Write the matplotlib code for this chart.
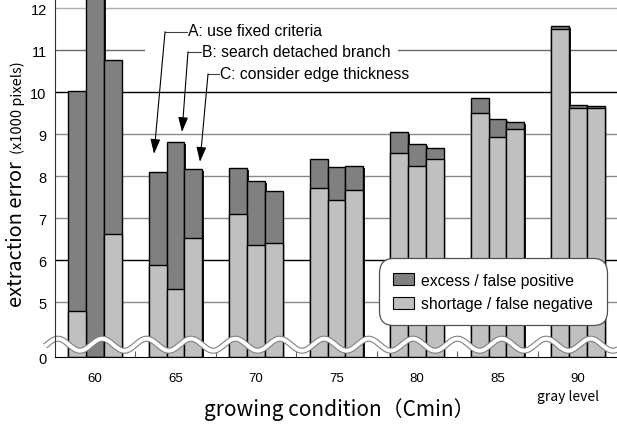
import numpy as np
import matplotlib
matplotlib.use("Agg")
import matplotlib.pyplot as plt
from matplotlib.patches import Patch, Rectangle
import matplotlib.patheffects as pe

# ---------------- data ----------------
groups = ["60", "65", "70", "75", "80", "85", "90"]
methods = ["A", "B", "C"]
# shortage / false negative (x1000 pixels)
shortage_A = [4.78, 5.89, 7.09, 7.72, 8.56, 9.50, 11.50]
shortage_B = [0.00, 5.31, 6.37, 7.42, 8.24, 8.94, 9.62]
shortage_C = [6.61, 6.53, 6.40, 7.68, 8.41, 9.12, 9.62]
# excess / false positive (x1000 pixels)
excess_A = [5.24, 2.20, 1.10, 0.68, 0.49, 0.37, 0.07]
excess_B = [12.90, 3.50, 1.51, 0.79, 0.52, 0.42, 0.08]
excess_C = [4.15, 1.64, 1.24, 0.56, 0.27, 0.17, 0.06]
y_ticks = [5, 6, 7, 8, 9, 10, 11, 12]
annot_labels = ["A: use fixed criteria", "B: search detached branch", "C: consider edge thickness"]
legend_labels = ["excess / false positive", "shortage / false negative"]

shortage = [shortage_A, shortage_B, shortage_C]
excess = [excess_A, excess_B, excess_C]

DARK = "#808080"
LIGHT = "#c0c0c0"
ZERO = 3.69       # display position of the broken-axis zero
TOP = 12.22

def disp(v):
    return np.maximum(np.asarray(v, dtype=float), ZERO)

fig = plt.figure(figsize=(6.17, 4.27), dpi=100)
ax = fig.add_axes([55 / 617, 69 / 427, 562 / 617, 358 / 427])
ax.set_xlim(-0.497, 6.484)
ax.set_ylim(ZERO, TOP)

# grid lines
grid_col = {5: "#8a8a8a", 6: "black", 7: "#8a8a8a", 8: "#8a8a8a", 9: "#8a8a8a",
            10: "black", 11: "#6a6a6a", 12: "#b0b0b0"}
for t in y_ticks:
    ax.axhline(t, color=grid_col[t], lw=1.0, zorder=0.5)

# white box behind annotation texts
ax.add_patch(Rectangle((0.160, 0.7626), 0.450, 0.181, transform=ax.transAxes,
                       facecolor="white", edgecolor="none", zorder=1.5))

x = np.arange(len(groups))
w = 0.22
offsets = [-w, 0, w]
shadow = [pe.SimplePatchShadow(offset=(1.2, -1.2), shadow_rgbFace="black", alpha=0.9), pe.Normal()]
for k in range(3):
    s = np.array(shortage[k])
    e = np.array(excess[k])
    b1 = ax.bar(x + offsets[k], disp(s + e) - ZERO, w, bottom=ZERO, color=DARK,
                edgecolor="black", lw=1.0, zorder=2)
    for p in b1:
        p.set_path_effects(shadow)
    ax.bar(x + offsets[k], disp(s) - ZERO, w, bottom=ZERO, color=LIGHT,
           edgecolor="black", lw=1.0, zorder=2.5)

# wavy axis break
px_per_grp = 80.5
wx = np.linspace(-0.62, 6.6, 800)
period = 44.4 / px_per_grp
trough = (80 - 95) / px_per_grp
wy = 3.983 - 0.143 * np.cos(2 * np.pi * (wx - trough) / period)
ax.plot(wx, wy, color="#808080", lw=4.4, zorder=4, clip_on=False, solid_capstyle="butt")
ax.plot(wx, wy, color="white", lw=2.8, zorder=4.1, clip_on=False, solid_capstyle="butt")

# annotations
txt_pos = [(1.155, 11.47), (1.33, 10.96), (1.553, 10.435)]
corners = [(0.87, 11.44), (1.155, 10.96), (1.404, 10.435)]
tips = [(0.733, 8.53), (1.081, 9.05), (1.304, 8.34)]
for lab, tp, cn, tip in zip(annot_labels, txt_pos, corners, tips):
    ax.text(tp[0], tp[1], lab, ha="left", va="center", fontsize=11.3,
            family="Liberation Sans", zorder=5)
    ax.plot([cn[0], tp[0] - 0.01], [cn[1], cn[1]], color="#404040", lw=0.8, zorder=5)
    ax.annotate("", xy=tip, xytext=cn,
                arrowprops=dict(arrowstyle="-|>,head_length=0.9,head_width=0.3",
                                color="black", lw=0.8, shrinkA=0, shrinkB=0,
                                mutation_scale=10), zorder=5)

# axes styling
for sp in ["top", "right"]:
    ax.spines[sp].set_visible(False)
ax.spines["left"].set_color("#303030")
ax.spines["bottom"].set_color("black")
ax.spines["left"].set_zorder(6)
ax.spines["bottom"].set_zorder(6)

ax.set_yticks([ZERO] + y_ticks)
ax.set_yticklabels(["0"] + [str(t) for t in y_ticks], fontsize=10.5, family="Liberation Sans")
ax.tick_params(axis="y", length=0, pad=6)
ax.set_xticks(x)
ax.set_xticklabels(groups, fontsize=9.5, family="Liberation Sans")
ax.tick_params(axis="x", which="major", length=0, pad=11)
ax.set_xticks(np.arange(0.5, 6.0, 1.0), minor=True)
ax.tick_params(axis="x", which="minor", direction="in", length=4, color="#606060", width=0.8)

# legend
handles = [Patch(facecolor=DARK, edgecolor="black", lw=0.8),
           Patch(facecolor=LIGHT, edgecolor="black", lw=0.8)]
leg = ax.legend(handles, legend_labels, loc="upper left", bbox_to_anchor=(0.585, 0.262),
                borderaxespad=0, prop={"family": "Liberation Sans", "size": 11.3},
                handlelength=1.35, handleheight=0.8, handletextpad=0.4,
                labelspacing=0.55, borderpad=0.6, fancybox=True, framealpha=1)
fr = leg.get_frame()
fr.set_edgecolor("#505050")
fr.set_linewidth(0.9)
fr.set_boxstyle("round,pad=0.3,rounding_size=0.9")
leg.set_zorder(7)

# labels
cjk = ["Noto Sans CJK JP", "DejaVu Sans"]
fig.text(17 / 617, (427 - 234) / 427, "extraction error", rotation=90, ha="center",
         va="center", fontsize=14.4, family=cjk)
fig.text(18 / 617, (427 - 108) / 427, "(x1000 pixels)", rotation=90, ha="center",
         va="center", fontsize=10.5, family=cjk)
fig.text(339 / 617, (427 - 410) / 427, "growing condition（Cmin）", ha="center",
         va="center", fontsize=15, family=cjk)
fig.text(568 / 617, (427 - 397) / 427, "gray level", ha="center", va="center",
         fontsize=10, family=cjk)

fig.savefig("out.png", dpi=100)
